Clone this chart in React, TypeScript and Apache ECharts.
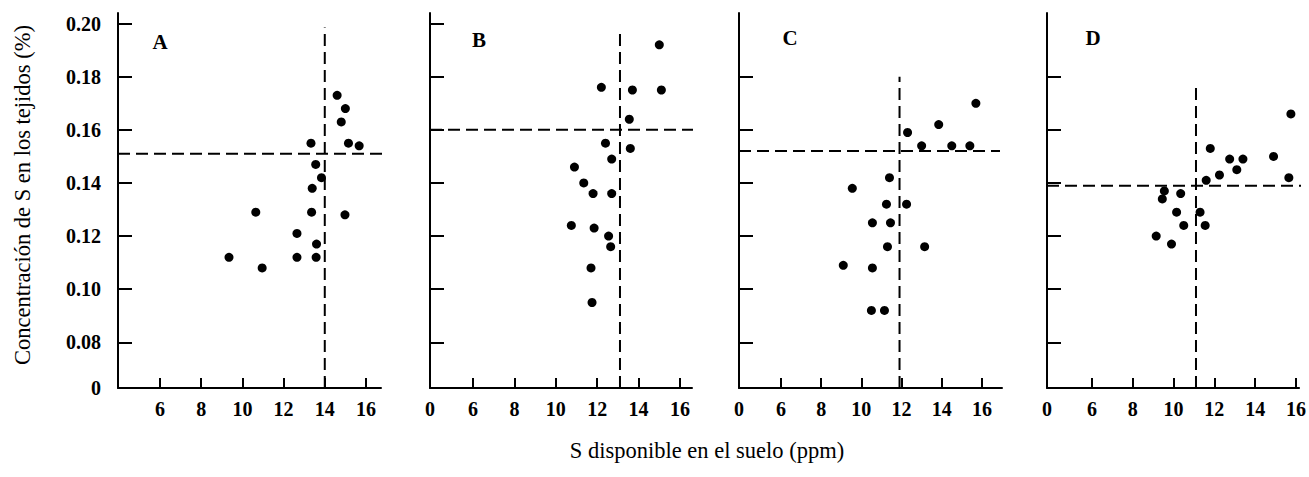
import React, { useEffect, useRef } from "react";
import * as echarts from "echarts";

// ---- Data ----
const panelLetters = ["A", "B", "C", "D"];

const panelA_x = [14.6, 15.0, 14.8, 13.33, 15.15, 15.67, 13.56, 13.84, 13.39, 13.36, 10.65, 14.98, 12.65, 13.6, 9.35, 12.65, 13.58, 10.96];
const panelA_y = [0.173, 0.168, 0.163, 0.155, 0.155, 0.154, 0.147, 0.142, 0.138, 0.129, 0.129, 0.128, 0.121, 0.117, 0.112, 0.112, 0.112, 0.108];

const panelB_x = [15.0, 12.2, 13.7, 15.1, 13.55, 12.4, 13.6, 12.7, 10.9, 11.35, 11.8, 12.7, 10.75, 11.85, 12.55, 12.65, 11.7, 11.75];
const panelB_y = [0.192, 0.176, 0.175, 0.175, 0.164, 0.155, 0.153, 0.149, 0.146, 0.140, 0.136, 0.136, 0.124, 0.123, 0.120, 0.116, 0.108, 0.095];

const panelC_x = [15.7, 13.85, 12.3, 13.0, 14.5, 15.4, 11.4, 9.55, 11.25, 12.25, 10.55, 11.45, 11.3, 13.15, 9.1, 10.55, 10.5, 11.15];
const panelC_y = [0.170, 0.162, 0.159, 0.154, 0.154, 0.154, 0.142, 0.138, 0.132, 0.132, 0.125, 0.125, 0.116, 0.116, 0.109, 0.108, 0.092, 0.092];

const panelD_x = [15.75, 11.8, 12.75, 13.4, 14.9, 13.1, 12.25, 11.6, 15.65, 9.55, 9.45, 10.35, 10.15, 11.3, 10.5, 11.55, 9.15, 9.9];
const panelD_y = [0.166, 0.153, 0.149, 0.149, 0.150, 0.145, 0.143, 0.141, 0.142, 0.137, 0.134, 0.136, 0.129, 0.129, 0.124, 0.124, 0.120, 0.117];

// critical levels (dashed lines)
const criticalSoil = [14.0, 13.1, 11.9, 11.1];
const criticalTissue = [0.151, 0.160, 0.152, 0.139];
const verticalTop = [0.1985, 0.197, 0.18, 0.178];

// axes (broken axes: the "0" sits at the axis origin)
const xTickLabels = [6, 8, 10, 12, 14, 16];
const yTickLabelsFull = [0.08, 0.1, 0.12, 0.14, 0.16, 0.18, 0.2];
const yTickLabelsShort = [0.08, 0.1, 0.12, 0.14, 0.16, 0.18];
const xMin = [3.96, 3.92, 3.91, 3.8];
const xMax = [16.73, 16.58, 17.0, 16.15];
const hLineEnd = [17.07, 16.72, 16.9, 16.58];
const Y_MIN = 0.0628;
const Y_MAX = 0.204;

const yTitle = "Concentración de S en los tejidos (%)";
const xTitle = "S disponible en el suelo (ppm)";

const FONT = '"Liberation Serif", "Times New Roman", serif';

const gridLeft = [118, 430, 739, 1047];
const gridWidth = [263, 262, 263, 253];
const letterPos = [
  [160, 42],
  [479, 40],
  [790, 38],
  [1093, 38],
];

export default function App() {
  const ref = useRef<HTMLDivElement>(null);

  useEffect(() => {
    const chart = echarts.init(ref.current!, null, { renderer: "svg" });
    const xs = [panelA_x, panelB_x, panelC_x, panelD_x];
    const ys = [panelA_y, panelB_y, panelC_y, panelD_y];

    const grids = gridLeft.map((l, i) => ({
      left: l,
      top: 13,
      width: gridWidth[i],
      height: 375,
    }));

    const xAxes = gridLeft.map((_, i) => ({
      gridIndex: i,
      type: "value",
      min: xMin[i],
      max: xMax[i],
      axisLine: { show: true, onZero: false, lineStyle: { color: "#000", width: 2 } },
      axisTick: {
        show: true,
        inside: true,
        length: 10,
        lineStyle: { color: "#000", width: 2 },
        customValues: xTickLabels,
      },
      axisLabel: {
        show: true,
        customValues: i === 0 ? xTickLabels : [xMin[i], ...xTickLabels],
        formatter: (v: number) => (v < 5 ? "0" : String(Math.round(v))),
        fontFamily: FONT,
        fontSize: 20,
        fontWeight: "bold",
        color: "#000",
        margin: 11,
        hideOverlap: false,
      },
      splitLine: { show: false },
    }));

    const yAxes = gridLeft.map((_, i) => ({
      gridIndex: i,
      type: "value",
      min: Y_MIN,
      max: Y_MAX,
      axisLine: { show: true, onZero: false, lineStyle: { color: "#000", width: 2 } },
      axisTick: {
        show: true,
        inside: true,
        length: 14,
        lineStyle: { color: "#000", width: 2 },
        customValues: i < 2 ? yTickLabelsFull : yTickLabelsShort,
      },
      axisLabel: {
        show: i === 0,
        customValues: [Y_MIN, ...yTickLabelsFull],
        formatter: (v: number) => (v < 0.07 ? "0" : v.toFixed(2)),
        fontFamily: FONT,
        fontSize: 20,
        fontWeight: "bold",
        color: "#000",
        margin: 17,
        hideOverlap: false,
      },
      splitLine: { show: false },
    }));

    const series: any[] = [];
    xs.forEach((xArr, i) => {
      series.push({
        type: "scatter",
        xAxisIndex: i,
        yAxisIndex: i,
        symbol: "circle",
        symbolSize: 9,
        itemStyle: { color: "#000", opacity: 1 },
        data: xArr.map((x, k) => [x, ys[i][k]]),
        clip: false,
        z: 3,
      });
      series.push({
        type: "line",
        xAxisIndex: i,
        yAxisIndex: i,
        symbol: "none",
        clip: false,
        lineStyle: { color: "#000", width: 2, type: [12, 6] },
        data: [
          [criticalSoil[i], Y_MIN],
          [criticalSoil[i], verticalTop[i]],
        ],
        z: 2,
      });
      series.push({
        type: "line",
        xAxisIndex: i,
        yAxisIndex: i,
        symbol: "none",
        clip: false,
        lineStyle: { color: "#000", width: 2, type: [12, 6] },
        data: [
          [xMin[i], criticalTissue[i]],
          [hLineEnd[i], criticalTissue[i]],
        ],
        z: 2,
      });
    });

    const graphic: any[] = panelLetters.map((t, i) => ({
      type: "text",
      x: letterPos[i][0],
      y: letterPos[i][1],
      style: {
        text: t,
        fontFamily: FONT,
        fontSize: 21,
        fontWeight: "bold",
        fill: "#000",
        align: "center",
        verticalAlign: "middle",
        textAlign: "center",
        textVerticalAlign: "middle",
      },
    }));
    graphic.push({
      type: "text",
      x: 22,
      y: 195,
      rotation: Math.PI / 2,
      style: {
        text: yTitle,
        fontFamily: FONT,
        fontSize: 22.5,
        fill: "#000",
        align: "center",
        verticalAlign: "middle",
        textAlign: "center",
        textVerticalAlign: "middle",
      },
    });
    graphic.push({
      type: "text",
      x: 707,
      y: 450,
      style: {
        text: xTitle,
        fontFamily: FONT,
        fontSize: 22.5,
        fill: "#000",
        align: "center",
        verticalAlign: "middle",
        textAlign: "center",
        textVerticalAlign: "middle",
      },
    });

    chart.setOption({
      animation: false,
      backgroundColor: "#fff",
      grid: grids,
      xAxis: xAxes,
      yAxis: yAxes,
      series,
      graphic,
    });
    return () => chart.dispose();
  }, []);

  return (
    <div
      ref={ref}
      style={{ position: "absolute", left: 0, top: 0, width: 1309, height: 477, background: "#fff" }}
    />
  );
}
